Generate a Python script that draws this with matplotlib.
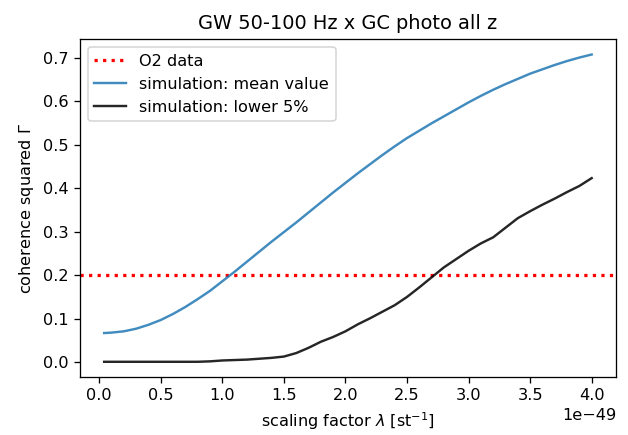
import matplotlib
matplotlib.use("Agg")
import matplotlib.pyplot as plt
import numpy as np

# scaling factor lambda (units of 1e-49 st^-1)
lam = [0.04, 0.1, 0.2, 0.3, 0.4, 0.5, 0.6, 0.7, 0.8, 0.9,
       1.0, 1.1, 1.2, 1.3, 1.4, 1.5, 1.6, 1.7, 1.8, 1.9,
       2.0, 2.1, 2.2, 2.3, 2.4, 2.5, 2.6, 2.7, 2.8, 2.9,
       3.0, 3.1, 3.2, 3.3, 3.4, 3.5, 3.6, 3.7, 3.8, 3.9, 4.0]
mean_val = [0.067, 0.068, 0.071, 0.077, 0.086, 0.097, 0.111, 0.127, 0.145, 0.164,
            0.186, 0.208, 0.231, 0.254, 0.277, 0.299, 0.321, 0.344, 0.367, 0.390,
            0.412, 0.434, 0.455, 0.476, 0.496, 0.515, 0.532, 0.549, 0.565, 0.581,
            0.597, 0.612, 0.626, 0.639, 0.651, 0.663, 0.673, 0.683, 0.692, 0.700, 0.707]
lower5 = [0.001, 0.001, 0.001, 0.001, 0.001, 0.001, 0.001, 0.001, 0.001, 0.002,
          0.004, 0.005, 0.006, 0.008, 0.010, 0.013, 0.021, 0.033, 0.047, 0.058,
          0.071, 0.087, 0.101, 0.116, 0.131, 0.150, 0.172, 0.195, 0.218, 0.237,
          0.256, 0.273, 0.287, 0.309, 0.331, 0.347, 0.362, 0.376, 0.391, 0.405, 0.423]
o2_level = 0.2

x = np.array(lam) * 1e-49

fig, ax = plt.subplots(figsize=(628/116, 435/116), dpi=116)
fig.subplots_adjust(left=0.127, right=0.981, top=0.91, bottom=0.133)

ax.axhline(o2_level, color='red', ls=':', lw=2, label='O2 data')
ax.plot(x, mean_val, color='#1f77b4', alpha=0.85, label='simulation: mean value')
ax.plot(x, lower5, color='k', alpha=0.85, label='simulation: lower 5%')

ax.set_title('GW 50-100 Hz x GC photo all z')
ax.set_xlabel(r'scaling factor $\lambda$ [st$^{-1}$]')
ax.set_ylabel(r'coherence squared $\Gamma$')
ax.legend(loc='upper left')

fig.savefig('out.png', dpi=116)
